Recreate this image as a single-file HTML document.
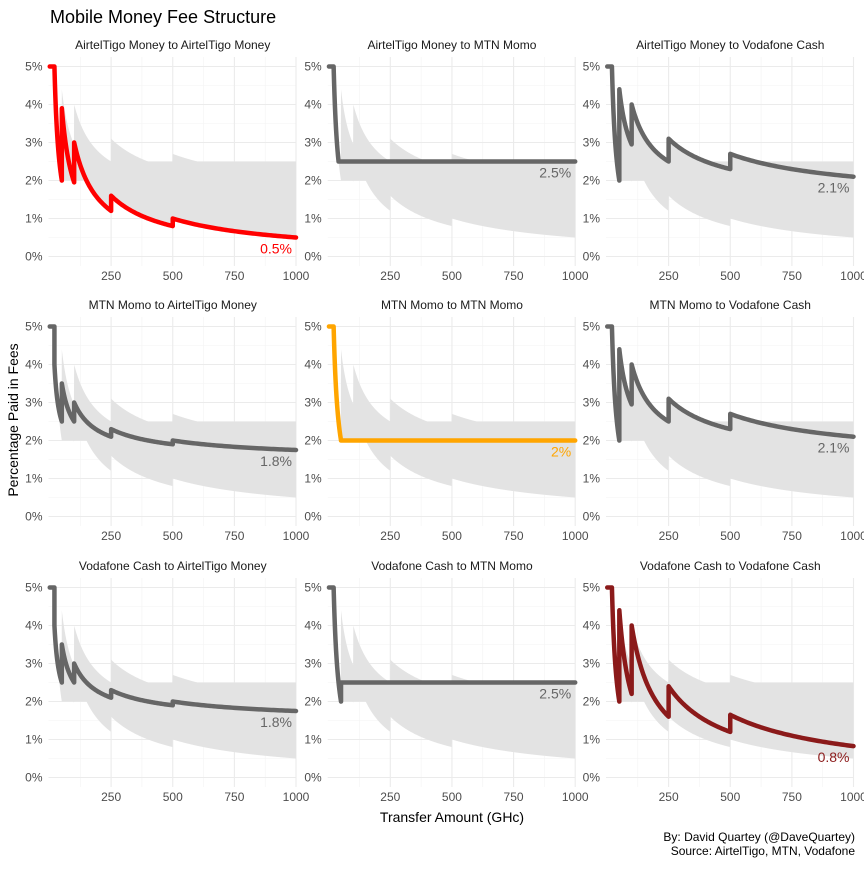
<!DOCTYPE html>
<html><head><meta charset="utf-8"><style>
body{margin:0;background:#fff;}
svg{font-family:"Liberation Sans",Arial,sans-serif;}
</style></head><body>
<svg id="chart" width="864" height="864" viewBox="0 0 864 864">
<rect width="864" height="864" fill="#fff"/>
<text x="50" y="23" font-size="18" fill="#000">Mobile Money Fee Structure</text>
<text transform="translate(18,420) rotate(-90)" text-anchor="middle" font-size="14" fill="#000">Percentage Paid in Fees</text>
<text x="452" y="822" text-anchor="middle" font-size="14" fill="#000">Transfer Amount (GHc)</text>
<text x="855" y="841" text-anchor="end" font-size="12" fill="#000">By: David Quartey (@DaveQuartey)</text>
<text x="855" y="855" text-anchor="end" font-size="12" fill="#000">Source: AirtelTigo, MTN, Vodafone</text>
<g id="panels"></g>
</svg>
<script>
// Panel titles
const panelTitles = ["AirtelTigo Money to AirtelTigo Money","AirtelTigo Money to MTN Momo","AirtelTigo Money to Vodafone Cash",
"MTN Momo to AirtelTigo Money","MTN Momo to MTN Momo","MTN Momo to Vodafone Cash",
"Vodafone Cash to AirtelTigo Money","Vodafone Cash to MTN Momo","Vodafone Cash to Vodafone Cash"];
// Fee tiers per panel: [min amount, max amount, fixed fee GHc, percent fee]
const tiersATAT = [[1,20,0,5],[20,50,1,0],[50,100,1.95,0],[100,250,3,0],[250,500,4,0],[500,1000,5,0]];
const tiersATMTN = [[1,20,0,5],[20,40,1,0],[40,1000,0,2.5]];
const tiersATVF = [[1,20,0,5],[20,50,1,0],[50,100,1.45,1.5],[100,250,2.5,1.5],[250,500,4,1.5],[500,1000,6,1.5]];
const tiersMTNAT = [[1,20,0,5],[20,50,0.5,1.5],[50,100,1,1.5],[100,250,1.5,1.5],[250,500,2,1.5],[500,1000,2.5,1.5]];
const tiersMTNMTN = [[1,20,0,5],[20,50,1,0],[50,1000,0,2]];
const tiersMTNVF = [[1,20,0,5],[20,50,1,0],[50,100,1.45,1.5],[100,250,2.5,1.5],[250,500,4,1.5],[500,1000,6,1.5]];
const tiersVFAT = [[1,20,0,5],[20,50,0.5,1.5],[50,100,1,1.5],[100,250,1.5,1.5],[250,500,2,1.5],[500,1000,2.5,1.5]];
const tiersVFMTN = [[1,20,0,5],[20,50,1,0],[50,1000,0,2.5]];
const tiersVFVF = [[1,20,0,5],[20,50,1,0],[50,100,2.2,0],[100,250,4,0],[250,500,6,0],[500,1000,8.25,0]];
const panelTiers = [tiersATAT,tiersATMTN,tiersATVF,tiersMTNAT,tiersMTNMTN,tiersMTNVF,tiersVFAT,tiersVFMTN,tiersVFVF];
const panelColors = ["#ff0000","#666666","#666666","#666666","#ffa500","#666666","#666666","#666666","#8b1a1a"];
const endLabels = ["0.5%","2.5%","2.1%","1.8%","2%","2.1%","1.8%","2.5%","0.8%"];
const xTicks = [250,500,750,1000];
const xMinor = [125,375,625,875];
const yTicks = [0,1,2,3,4,5];

const NS="http://www.w3.org/2000/svg";
const colX0=[49.5,328.7,607], pw=246.5;
const rowTop=[57,317,578], ph=209;
function pct(tiers,x){
  for(let i=0;i<tiers.length;i++){const t=tiers[i];
    if(x>=t[0]&&(x<t[1]||i===tiers.length-1)) return (t[2]+t[3]/100*x)/x*100;}
  return null;
}
function mk(tag,attrs,parent){const e=document.createElementNS(NS,tag);for(const k in attrs)e.setAttribute(k,attrs[k]);parent.appendChild(e);return e;}
const root=document.getElementById('panels');
const xs=[];for(let x=1;x<=1000;x+=1)xs.push(x);
const lo=[],hi=[];
xs.forEach(x=>{let mn=1e9,mx=-1e9;panelTiers.forEach(t=>{const v=pct(t,x);if(v<mn)mn=v;if(v>mx)mx=v;});lo.push(mn);hi.push(mx);});
panelTiers.forEach((tiers,i)=>{
  const r=Math.floor(i/3),c=i%3;
  const X=v=>colX0[c]+v/1000*pw;
  const Y=v=>rowTop[r]+ph-(v+0.25)/5.5*ph;
  const g=mk('g',{},root);
  
  
  const left=X(0)-1,right=X(1000);
  for(let k=0;k<5;k++){const yv=k+0.5;mk('line',{x1:left,x2:right,y1:Y(yv),y2:Y(yv),stroke:'#f3f3f3','stroke-width':0.6},g);}
  xMinor.forEach(v=>mk('line',{x1:X(v),x2:X(v),y1:rowTop[r],y2:rowTop[r]+ph,stroke:'#f3f3f3','stroke-width':0.6},g));
  yTicks.forEach(v=>{mk('line',{x1:left,x2:right,y1:Y(v),y2:Y(v),stroke:'#ebebeb','stroke-width':1.1},g);
    const t=mk('text',{x:left-6,y:Y(v)+4,'text-anchor':'end','font-size':12,fill:'#4d4d4d'},g);t.textContent=v+'%';
    });
  xTicks.forEach(v=>{mk('line',{x1:X(v),x2:X(v),y1:rowTop[r],y2:rowTop[r]+ph,stroke:'#ebebeb','stroke-width':1.1},g);
    const t=mk('text',{x:X(v),y:rowTop[r]+ph+14,'text-anchor':'middle','font-size':12,fill:'#4d4d4d'},g);t.textContent=v;
    });
  const st=mk('text',{x:colX0[c]+pw/2,y:rowTop[r]-8,'text-anchor':'middle','font-size':12,fill:'#1a1a1a'},g);
  st.textContent=panelTitles[i];
  
  let d='M'+X(xs[0])+','+Y(hi[0]);
  for(let k=1;k<xs.length;k++)d+='L'+X(xs[k]).toFixed(2)+','+Y(hi[k]).toFixed(2);
  for(let k=xs.length-1;k>=0;k--)d+='L'+X(xs[k]).toFixed(2)+','+Y(lo[k]).toFixed(2);
  const rb=mk('path',{d:d+'Z',fill:'#e3e3e3'},g);
  
  let ld='';
  tiers.forEach((t,ti)=>{const step=(t[1]-t[0])/60;
    for(let s=0;s<=60;s++){const x=t[0]+s*step;const x2=(s===60&&ti<tiers.length-1)?x-0.001:x;
      const v=(t[2]+t[3]/100*x2)/x2*100;ld+=(ld?'L':'M')+X(x2).toFixed(2)+','+Y(v).toFixed(2);}});
  const ln=mk('path',{d:ld,fill:'none',stroke:panelColors[i],'stroke-width':4.5,'stroke-linejoin':'round','stroke-linecap':'round'},g);
  
  const endV=pct(tiers,1000);
  const el=mk('text',{x:X(1000)-4,y:Y(endV)+16,'text-anchor':'end','font-size':14,fill:panelColors[i]},g);
  el.textContent=endLabels[i];
  
});
</script>
</body></html>
